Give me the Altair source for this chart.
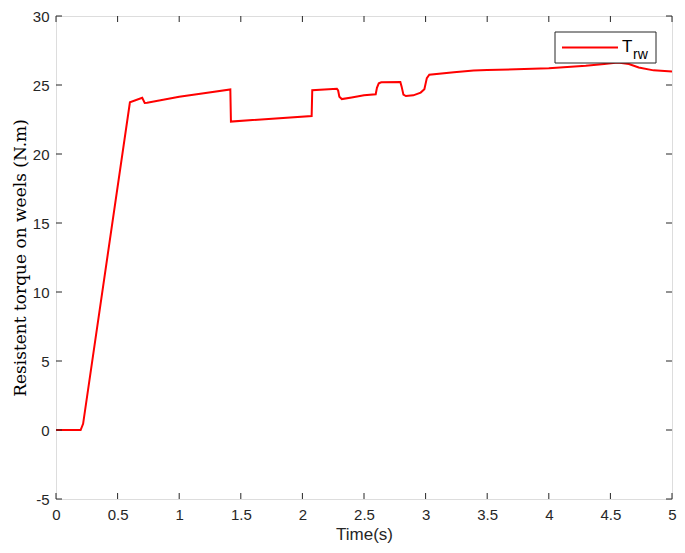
import altair as alt
import pandas as pd

# Data
t = [0.0, 0.2, 0.22, 0.6, 0.70, 0.72, 0.74, 1.0, 1.2, 1.415, 1.42, 2.075, 2.08, 2.28,
     2.29, 2.30, 2.32, 2.4, 2.5, 2.595, 2.605, 2.62, 2.64, 2.795, 2.805, 2.82, 2.84,
     2.9, 2.96, 2.99, 3.01, 3.03, 3.23, 3.39, 3.5, 4.0, 4.3, 4.45, 4.56, 4.65, 4.73, 4.85, 5.0]
trw = [0.0, 0.0, 0.45, 23.75, 24.07, 23.7, 23.72, 24.15, 24.4, 24.68, 22.35, 22.75, 24.62, 24.72,
       24.6, 24.15, 23.98, 24.1, 24.25, 24.33, 24.8, 25.12, 25.2, 25.22, 24.9, 24.3, 24.2,
       24.25, 24.45, 24.7, 25.5, 25.75, 25.93, 26.05, 26.08, 26.22, 26.4, 26.53, 26.63, 26.52, 26.27, 26.06, 25.97]
x_ticks = [0, 0.5, 1, 1.5, 2, 2.5, 3, 3.5, 4, 4.5, 5]
y_ticks = [-5, 0, 5, 10, 15, 20, 25, 30]
legend_main = "T"
legend_sub = "rw"

W, H = 616, 483
AX = "#262626"
df = pd.DataFrame({"t": t, "v": trw})
xs = alt.Scale(domain=[0, 5], nice=False, zero=False)
ys = alt.Scale(domain=[-5, 30], nice=False, zero=False)

line = alt.Chart(df).mark_line(color="#ff0000", strokeWidth=2, clip=True).encode(
    x=alt.X("t:Q", scale=xs, axis=alt.Axis(
        title="Time(s)", values=x_ticks, ticks=False, domain=False, grid=False,
        labelExpr="datum.value + ''",
        labelFont="Liberation Sans", labelFontSize=15, labelColor=AX, labelPadding=8,
        titleFont="Liberation Sans", titleFontSize=17, titleFontWeight="normal",
        titleColor=AX, titlePadding=4, labelFlush=False)),
    y=alt.Y("v:Q", scale=ys, axis=alt.Axis(
        title="Resistent torque on weels (N.m)", values=y_ticks, ticks=False, domain=False,
        grid=False, labelExpr="datum.value + ''",
        labelFont="Liberation Sans", labelFontSize=15, labelColor=AX,
        labelPadding=7, titleFont="DejaVu Serif", titleFontSize=17,
        titleFontWeight="normal", titleColor="#000000", titlePadding=3, labelFlush=False)),
)

xt = pd.DataFrame({"x": x_ticks})
yt = pd.DataFrame({"y": y_ticks})
TL = 6
tb = alt.Chart(xt).mark_rule(color=AX, strokeWidth=1).encode(
    x=alt.X("x:Q", scale=xs), y=alt.value(H), y2=alt.value(H - TL))
tt = alt.Chart(xt).mark_rule(color=AX, strokeWidth=1).encode(
    x=alt.X("x:Q", scale=xs), y=alt.value(0), y2=alt.value(TL))
tl = alt.Chart(yt).mark_rule(color=AX, strokeWidth=1).encode(
    y=alt.Y("y:Q", scale=ys), x=alt.value(0), x2=alt.value(TL))
tr = alt.Chart(yt).mark_rule(color=AX, strokeWidth=1).encode(
    y=alt.Y("y:Q", scale=ys), x=alt.value(W), x2=alt.value(W - TL))

leg = pd.DataFrame({"main": [legend_main], "sub": [legend_sub]})
box = alt.Chart(leg).mark_rect(fill="white", stroke=AX, strokeWidth=1).encode(
    x=alt.value(W - 117), x2=alt.value(W - 16), y=alt.value(16), y2=alt.value(47))
lline = alt.Chart(leg).mark_rule(color="#ff0000", strokeWidth=2).encode(
    x=alt.value(W - 110), x2=alt.value(W - 54), y=alt.value(31.5))
ltext = alt.Chart(leg).mark_text(font="Liberation Sans", fontSize=17, align="left",
                                 baseline="alphabetic", color="#000000").encode(
    x=alt.value(W - 50), y=alt.value(36), text="main:N")
lsub = alt.Chart(leg).mark_text(font="Liberation Sans", fontSize=14, align="left",
                                baseline="alphabetic", color="#000000").encode(
    x=alt.value(W - 39), y=alt.value(43), text="sub:N")

chart = alt.layer(line, tb, tt, tl, tr, box, lline, ltext, lsub).properties(
    width=W, height=H,
    autosize=alt.AutoSizeParams(type="none"),
    padding={"left": 48, "top": 8, "right": 5, "bottom": 46},
).configure_view(stroke=AX, strokeWidth=1).configure(background="white")

chart.save("out.html", embed_options={"renderer": "svg", "actions": False})
